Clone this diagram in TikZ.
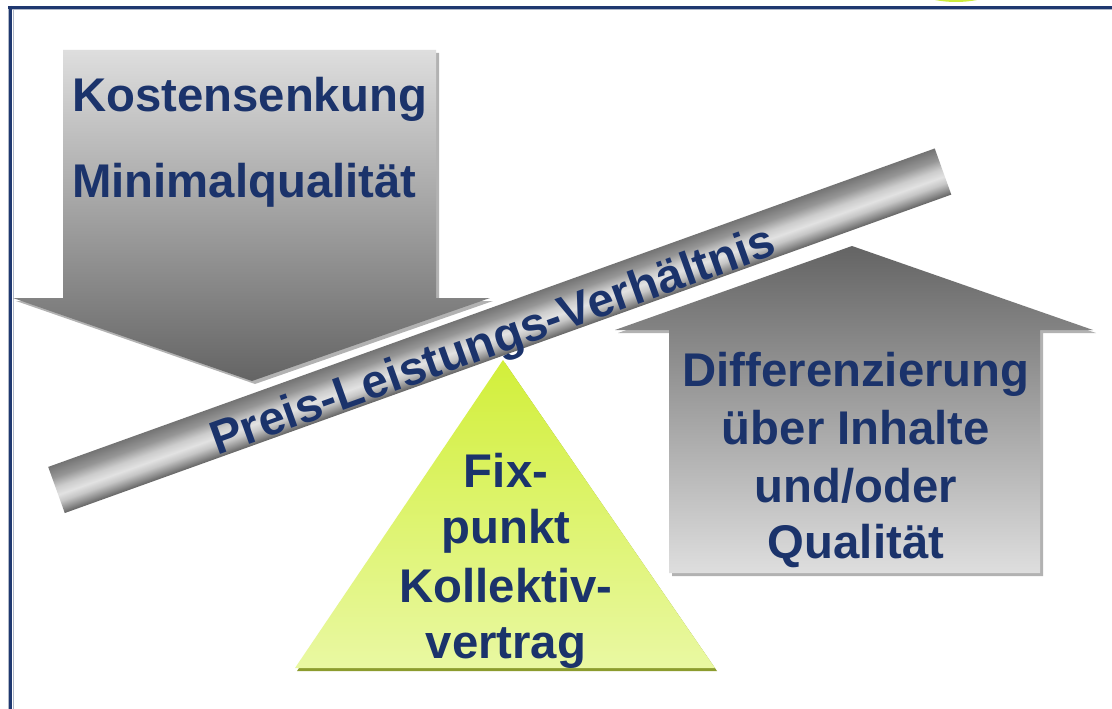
\documentclass[tikz,border=0pt]{standalone}
\usepackage{fontspec}
\setmainfont{Liberation Sans}
\definecolor{navy}{RGB}{27,51,107}
\definecolor{framenavy}{RGB}{31,56,112}
\definecolor{framegray}{RGB}{176,184,200}
\definecolor{limecap}{RGB}{205,236,62}
\definecolor{trigtop}{RGB}{210,239,58}
\definecolor{trigbot}{RGB}{233,248,162}
\definecolor{trigshadow}{RGB}{140,156,46}
\definecolor{arrowlight}{RGB}{222,222,222}
\definecolor{arrowdark}{RGB}{100,100,100}
\definecolor{beamA}{RGB}{98,98,98}
\definecolor{beamB}{RGB}{138,138,138}
\definecolor{beamC}{RGB}{198,198,198}
\definecolor{beamD}{RGB}{226,226,226}
\definecolor{beamE}{RGB}{204,204,204}
\definecolor{beamF}{RGB}{150,150,150}
\definecolor{beamG}{RGB}{116,116,116}
% cross section of the lever beam, lower edge first
\pgfdeclareverticalshading{beamshading}{100bp}{%
  color(0bp)=(beamA); color(25bp)=(beamA); color(30bp)=(beamB);
  color(38bp)=(beamC); color(45bp)=(beamD); color(53bp)=(beamE);
  color(63bp)=(beamF); color(75bp)=(beamG); color(100bp)=(beamG)}
\begin{document}
\begin{tikzpicture}[x=1pt,y=-1pt,
  lbl/.style={font=\fontsize{47.3pt}{57pt}\selectfont\bfseries,
    text=navy, inner sep=0pt, anchor=base},
  dropshadow/.style={fill=black, opacity=0.3},
  downshade/.style={top color=arrowlight, bottom color=arrowdark},
  upshade/.style={top color=arrowdark, bottom color=arrowlight}]
\useasboundingbox (0,0) rectangle (1112,709);
\fill[white] (0,0) rectangle (1112,709);

% logo disc cut by the top edge
\begin{scope}
  \clip (0,0) rectangle (1112,709);
  \fill[limecap] (956,-109) circle (111pt);
\end{scope}

% frame
\draw[framegray, line width=1pt] (8,10) -- (1112,10);
\draw[framegray, line width=1pt] (13,10) -- (13,709);
\draw[framegray, line width=1pt] (8,8) -- (8,709);
\draw[framenavy, line width=3pt] (8,7.5) -- (1112,7.5);
\draw[framenavy, line width=3pt] (10.5,6) -- (10.5,709);

% downward arrow
\fill[dropshadow, shift={(3,3)}]
  (63,50) -- (436,50) -- (436,298) -- (490,298) -- (252,381)
  -- (13,298) -- (63,298) -- cycle;
\shade[downshade]
  (63,50) -- (436,50) -- (436,298) -- (490,298) -- (252,381)
  -- (13,298) -- (63,298) -- cycle;

% upward arrow
\fill[dropshadow, shift={(3,3)}]
  (669,573) -- (669,330) -- (615,330) -- (852,246) -- (1093,330)
  -- (1040,330) -- (1040,573) -- cycle;
\shade[upshade]
  (669,573) -- (669,330) -- (615,330) -- (852,246) -- (1093,330)
  -- (1040,330) -- (1040,573) -- cycle;

% fulcrum
\fill[trigshadow, shift={(2,3)}] (503,360) -- (715,668) -- (295,668) -- cycle;
\shade[top color=trigtop, bottom color=trigbot]
  (503,360) -- (715,668) -- (295,668) -- cycle;

% lever beam
\begin{scope}[transform canvas={xshift=499.75pt, yshift=-330.75pt, rotate=19.76}]
  \shade[shading=beamshading] (-471,-24.5) rectangle (471,24.5);
  \node[lbl] (ratio) at (-10,22) {Preis-Leistungs-Verhältnis};
\end{scope}

% labels
\node[lbl, anchor=base west] (cost) at (72,112) {Kostensenkung};
\node[lbl, anchor=base west] (minq) at (72,197) {Minimalqualität};

\node[lbl] (diff1) at (856,386) {Differenzierung};
\node[lbl] (diff2) at (856,444) {über Inhalte};
\node[lbl] (diff3) at (856,502) {und/oder};
\node[lbl] (diff4) at (856,558) {Qualität};

\node[lbl] (fix1) at (506,487) {Fix-};
\node[lbl] (fix2) at (506,543) {punkt};
\node[lbl] (fix3) at (506,602) {Kollektiv-};
\node[lbl] (fix4) at (506,658) {vertrag};
\end{tikzpicture}
\end{document}
